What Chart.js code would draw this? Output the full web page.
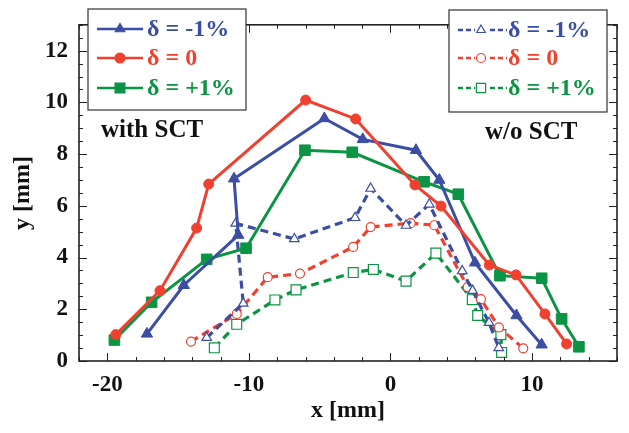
<!DOCTYPE html>
<html>
<head>
<meta charset="utf-8">
<script src="https://cdn.jsdelivr.net/npm/chart.js@4.4.0/dist/chart.umd.min.js"></script>
<style>
  html, body { margin: 0; padding: 0; background: #fff; }
  #wrap { width: 629px; height: 433px; }
</style>
</head>
<body>
<div id="wrap"><canvas id="chart" width="629" height="433"></canvas></div>
<script>
// === Datos ===
const xTickLabels = [-20, -10, 0, 10];
const yTickLabels = [0, 2, 4, 6, 8, 10, 12];

// with SCT (solid, filled markers)
const sctM1X = [-17.2, -14.6, -10.75, -11.05, -4.67, -1.96, 1.8, 3.45, 5.97, 8.9, 10.68];
const sctM1Y = [1.05, 2.93, 4.87, 7.05, 9.38, 8.57, 8.15, 7.0, 3.8, 1.76, 0.63];
const sct0X = [-19.4, -16.28, -13.69, -12.84, -5.99, -2.46, 1.73, 3.57, 6.98, 8.86, 10.91, 12.44];
const sct0Y = [1.02, 2.72, 5.14, 6.84, 10.09, 9.36, 6.81, 5.99, 3.71, 3.33, 1.82, 0.66];
const sctP1X = [-19.5, -16.87, -12.98, -10.2, -6.04, -2.7, 2.37, 4.79, 7.73, 10.68, 12.09, 13.31];
const sctP1Y = [0.81, 2.27, 3.93, 4.36, 8.15, 8.07, 6.93, 6.45, 3.3, 3.2, 1.63, 0.55];

// w/o SCT (dashed, open markers)
const noM1X = [-12.98, -10.4, -10.93, -6.79, -2.5, -1.4, 1.1, 2.74, 5.07, 5.8, 6.96, 7.65];
const noM1Y = [0.9, 2.23, 5.32, 4.72, 5.54, 6.67, 5.24, 6.06, 3.48, 2.72, 1.48, 0.51];
const no0X = [-14.09, -10.86, -8.67, -6.39, -2.63, -1.4, 1.43, 3.1, 5.45, 6.39, 7.66, 9.38];
const no0Y = [0.75, 1.82, 3.24, 3.38, 4.41, 5.18, 5.33, 5.25, 2.86, 2.39, 1.3, 0.49];
const noP1X = [-12.44, -10.86, -8.16, -6.67, -2.63, -1.21, 1.1, 3.21, 5.78, 6.16, 7.8, 7.85];
const noP1Y = [0.51, 1.42, 2.36, 2.75, 3.42, 3.54, 3.09, 4.17, 2.37, 1.76, 1.02, 0.33];

const seriesLabels = ["δ = -1%", "δ = 0", "δ = +1%"];

const BLUE = "#3b4ea3";
const RED = "#f0402f";
const GREEN = "#0b9444";
const FONT = "'Liberation Serif', 'DejaVu Serif', serif";

const toPts = (xs, ys) => xs.map((x, i) => ({ x: x, y: ys[i] }));

function solid(xs, ys, color, style, r) {
  return {
    data: toPts(xs, ys),
    showLine: true,
    borderColor: color,
    backgroundColor: color,
    borderWidth: 3,
    pointStyle: style,
    pointRadius: r,
    pointBackgroundColor: color,
    pointBorderColor: color,
    pointBorderWidth: 1
  };
}

function dashed(xs, ys, color, style, r) {
  return {
    data: toPts(xs, ys),
    showLine: true,
    borderColor: color,
    backgroundColor: color,
    borderWidth: 3.2,
    borderDash: [8, 5],
    pointStyle: style,
    pointRadius: r,
    pointBackgroundColor: "#fff",
    pointBorderColor: color,
    pointBorderWidth: 1.2
  };
}

// === Marco con ticks hacia dentro ===
const frameTicks = {
  id: "frameTicks",
  afterDatasetsDraw(chart) {
    const { ctx, chartArea: a, scales: { x, y } } = chart;
    ctx.save();
    ctx.strokeStyle = "#222";
    ctx.lineWidth = 1;
    const seg = (x1, y1, x2, y2) => {
      ctx.beginPath(); ctx.moveTo(x1, y1); ctx.lineTo(x2, y2); ctx.stroke();
    };
    for (let v = x.min; v <= x.max; v += 2) {
      const px = Math.round(x.getPixelForValue(v)) + 0.5;
      const len = v % 10 === 0 ? 8 : 4;
      seg(px, a.bottom, px, a.bottom - len);
      seg(px, a.top, px, a.top + len);
    }
    for (let v = y.min; v <= y.max; v += 0.5) {
      const py = Math.round(y.getPixelForValue(v)) + 0.5;
      const len = v % 2 === 0 ? 8 : 4;
      seg(a.left, py, a.left + len, py);
      seg(a.right, py, a.right - len, py);
    }
    ctx.lineWidth = 1.6;
    ctx.strokeRect(a.left, a.top, a.right - a.left, a.bottom - a.top);
    ctx.restore();
  }
};

// === Leyendas personalizadas ===
function drawLegend(ctx, box, rows, x0, x1, mx, tx, dash, open, note) {
  ctx.save();
  ctx.fillStyle = "#fff";
  ctx.fillRect(box[0], box[1], box[2], box[3]);
  ctx.strokeStyle = "#333";
  ctx.lineWidth = 1.2;
  ctx.strokeRect(box[0], box[1], box[2], box[3]);
  const colors = [BLUE, RED, GREEN];
  const styles = ["triangle", "circle", "rect"];
  const radii = open ? [5, 4.5, 6.5] : [5.5, 5, 7];
  rows.forEach((ry, i) => {
    ctx.strokeStyle = colors[i];
    ctx.lineWidth = 2.5;
    ctx.setLineDash(dash);
    ctx.beginPath(); ctx.moveTo(x0, ry); ctx.lineTo(x1, ry); ctx.stroke();
    ctx.setLineDash([]);
    if (open) {
      ctx.fillStyle = "#fff";
      ctx.fillRect(mx - 6, ry - 6, 12, 12);
    }
    ctx.fillStyle = open ? "#fff" : colors[i];
    ctx.lineWidth = 1.2;
    Chart.helpers.drawPoint(ctx, { pointStyle: styles[i], radius: radii[i], rotation: 0, borderWidth: 1.2 }, mx, ry);
    ctx.fillStyle = colors[i];
    ctx.font = "bold 24px " + FONT;
    ctx.textAlign = "left";
    ctx.textBaseline = "middle";
    ctx.fillText(seriesLabels[i], tx, ry + 1);
  });
  ctx.fillStyle = "#111";
  ctx.font = "bold 25px " + FONT;
  ctx.textAlign = "left";
  ctx.textBaseline = "middle";
  ctx.fillText(note[0], note[1], note[2]);
  ctx.restore();
}

const legends = {
  id: "legends",
  afterDraw(chart) {
    const ctx = chart.ctx;
    drawLegend(ctx, [88, 9, 158, 101], [29, 58, 88], 97, 143, 120, 147, [], false, ["with SCT", 101, 131]);
    drawLegend(ctx, [449, 10, 158, 102], [30, 58, 88], 458, 507, 481, 508, [5, 3], true, ["w/o SCT", 485, 133]);
  }
};

const tickFont = { family: FONT, size: 23, weight: "bold" };
const titleFont = { family: FONT, size: 24, weight: "bold" };

new Chart(document.getElementById("chart"), {
  type: "scatter",
  data: {
    datasets: [
      solid(sct0X, sct0Y, RED, "circle", 5),
      solid(sctM1X, sctM1Y, BLUE, "triangle", 6.5),
      solid(sctP1X, sctP1Y, GREEN, "rect", 7.5),
      dashed(noM1X, noM1Y, BLUE, "triangle", 5.5),
      dashed(no0X, no0Y, RED, "circle", 4.5),
      dashed(noP1X, noP1Y, GREEN, "rect", 7)
    ]
  },
  options: {
    responsive: false,
    animation: false,
    layout: { padding: { left: 0, top: 3, right: 12, bottom: 0 } },
    plugins: { legend: { display: false }, tooltip: { enabled: false } },
    scales: {
      x: {
        type: "linear",
        min: -22,
        max: 16,
        grid: { display: false, drawTicks: false },
        border: { display: false },
        afterBuildTicks: s => { s.ticks = xTickLabels.map(v => ({ value: v })); },
        afterFit: s => { s.height = 72; },
        ticks: { font: tickFont, color: "#111", padding: 10, maxRotation: 0, autoSkip: false },
        title: { display: true, text: "x [mm]", font: titleFont, color: "#111", padding: { top: 0, bottom: 8 } }
      },
      y: {
        type: "linear",
        min: 0,
        max: 13,
        grid: { display: false, drawTicks: false },
        border: { display: false },
        afterBuildTicks: s => { s.ticks = yTickLabels.map(v => ({ value: v })); },
        afterFit: s => { s.width = 79; },
        ticks: { font: tickFont, color: "#111", padding: 11, autoSkip: false },
        title: { display: true, text: "y [mm]", font: titleFont, color: "#111", padding: { top: 8, bottom: 0 } }
      }
    }
  },
  plugins: [frameTicks, legends]
});
</script>
</body>
</html>
